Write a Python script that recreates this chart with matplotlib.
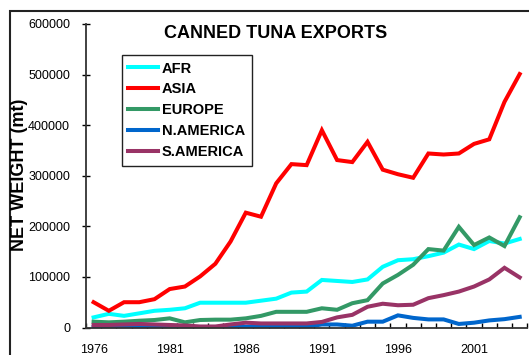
import matplotlib
matplotlib.use("Agg")
import matplotlib.pyplot as plt
from matplotlib.patches import Rectangle
from matplotlib.ticker import MultipleLocator, FixedLocator

plt.rcParams['font.family'] = ['Liberation Sans', 'DejaVu Sans']

years = list(range(1976, 2005))

afr = [20000, 27000, 23000, 28000, 33000, 35000, 38000, 49000, 49000, 49000,
       49000, 53000, 57000, 69000, 71000, 94000, 92000, 90000, 95000, 120000,
       133000, 135000, 141000, 148000, 164000, 155000, 171000, 166000, 175000]
asia = [50000, 33000, 50000, 50000, 56000, 76000, 81000, 101000, 126000, 170000,
        227000, 219000, 285000, 323000, 321000, 390000, 331000, 327000, 367000, 312000,
        303000, 296000, 344000, 342000, 344000, 363000, 372000, 446000, 501000]
europe = [11500, 10200, 11500, 13400, 14800, 18100, 10200, 14800, 15500, 15500,
          18100, 23000, 31000, 31000, 31000, 38000, 35000, 48000, 54000, 87000,
          104000, 124000, 155000, 152000, 199000, 163000, 178000, 161000, 218000]
n_america = [1000, 1000, 1000, 1000, 1000, 1000, 1000, 1000, 1000, 1000,
             1500, 1500, 1500, 1500, 1500, 6000, 6000, 3500, 11500, 11500,
             24000, 19000, 16000, 16000, 7000, 9500, 14000, 16500, 21000]
s_america = [5000, 5000, 6000, 7000, 6000, 5000, 4000, 2000, 2000, 6000,
             9500, 8000, 8000, 8000, 8000, 11000, 20000, 25000, 41000, 47000,
             44000, 45000, 58000, 64000, 71000, 81000, 95000, 118000, 99000]

series = [
    ("AFR", afr, "#00FFFF"),
    ("ASIA", asia, "#FF0000"),
    ("EUROPE", europe, "#339966"),
    ("N.AMERICA", n_america, "#0066CC"),
    ("S.AMERICA", s_america, "#993366"),
]

W, H = 529, 355
fig = plt.figure(figsize=(W / 100, H / 100), dpi=100)
ax = fig.add_axes([86 / W, 27.5 / H, 441.3 / W, 303.5 / H])

for name, vals, col in series:
    ax.plot(years, vals, color=col, lw=2.9, label=name, solid_joinstyle='miter')

ax.set_xlim(1975.5, 2004.5)
ax.set_ylim(0, 600000)

# labels every 5 years, ticks between the yearly categories
ax.xaxis.set_major_locator(FixedLocator([1976, 1981, 1986, 1991, 1996, 2001]))
ax.xaxis.set_minor_locator(FixedLocator([y + 0.5 for y in range(1975, 2005)]))
ax.tick_params(axis='x', which='major', length=0, pad=12, labelsize=9)
ax.tick_params(axis='x', which='minor', direction='in', length=3.5, width=1)
ax.yaxis.set_major_locator(MultipleLocator(100000))
ax.tick_params(axis='y', direction='inout', length=6, width=1, pad=8.5, labelsize=9)

for s in ['top', 'right']:
    ax.spines[s].set_visible(False)
for s in ['left', 'bottom']:
    ax.spines[s].set_linewidth(1.3)
    ax.spines[s].set_color('#333333')

leg = ax.legend(loc='upper left', bbox_to_anchor=(121.7 / W, 1 - 55 / H),
                bbox_transform=fig.transFigure, borderaxespad=0,
                fancybox=False, framealpha=1, edgecolor='#222222',
                prop={'weight': 'bold', 'size': 10.5},
                handlelength=2.05, handletextpad=0.25, labelspacing=0.47,
                borderpad=0.45)
leg.get_frame().set_linewidth(1.0)

fig.text(276 / W, 1 - 33 / H, "CANNED TUNA EXPORTS", ha='center', va='center',
         fontsize=13, fontweight='bold')
fig.text(20 / W, 1 - 175 / H, "NET WEIGHT (mt)", ha='center', va='center',
         rotation=90, fontsize=13, fontweight='bold')

# outer chart border
fig.patches.append(Rectangle((9.5 / W, -0.2), 1.5, 1.2 - 11 / H,
                             transform=fig.transFigure, fill=False,
                             edgecolor='#222222', lw=1.5))

fig.savefig("out.png", dpi=100)
